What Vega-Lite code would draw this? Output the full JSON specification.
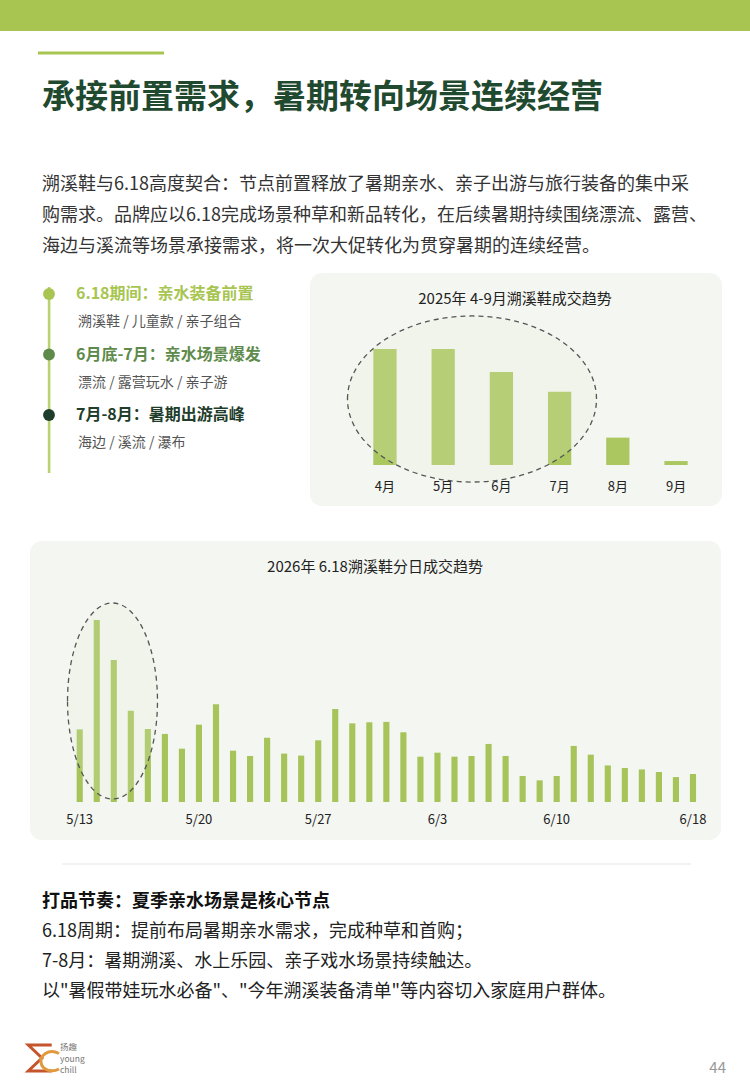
{
  "$schema": "https://vega.github.io/schema/vega-lite/v6.json",
  "width": 750,
  "height": 1083,
  "autosize": {"type": "fit", "contains": "padding"},
  "padding": 0,
  "background": "white",
  "config": {"view": {"stroke": null}, "font": "Noto Sans CJK SC"},
  "data": {"values": [{}]},
  "datasets": {
    "stages": [
      {"stage": "6.18期间", "title": "6.18期间：亲水装备前置", "items": "溯溪鞋 / 儿童款 / 亲子组合"},
      {"stage": "6月底-7月", "title": "6月底-7月：亲水场景爆发", "items": "漂流 / 露营玩水 / 亲子游"},
      {"stage": "7月-8月", "title": "7月-8月：暑期出游高峰", "items": "海边 / 溪流 / 瀑布"}
    ],
    "monthly": [
      {"month": "4月", "value": 100},
      {"month": "5月", "value": 100},
      {"month": "6月", "value": 80.2},
      {"month": "7月", "value": 63.2},
      {"month": "8月", "value": 23.6},
      {"month": "9月", "value": 3.4}
    ],
    "daily": [
      {"day": "5/13", "value": 39.9},
      {"day": "5/14", "value": 100},
      {"day": "5/15", "value": 78.0},
      {"day": "5/16", "value": 50.2},
      {"day": "5/17", "value": 40.1},
      {"day": "5/18", "value": 37.4},
      {"day": "5/19", "value": 29.3},
      {"day": "5/20", "value": 42.5},
      {"day": "5/21", "value": 53.7},
      {"day": "5/22", "value": 28.2},
      {"day": "5/23", "value": 25.3},
      {"day": "5/24", "value": 35.3},
      {"day": "5/25", "value": 26.6},
      {"day": "5/26", "value": 25.5},
      {"day": "5/27", "value": 33.9},
      {"day": "5/28", "value": 51.1},
      {"day": "5/29", "value": 43.2},
      {"day": "5/30", "value": 43.8},
      {"day": "5/31", "value": 44.0},
      {"day": "6/1", "value": 38.3},
      {"day": "6/2", "value": 24.9},
      {"day": "6/3", "value": 27.1},
      {"day": "6/4", "value": 24.9},
      {"day": "6/5", "value": 25.3},
      {"day": "6/6", "value": 31.9},
      {"day": "6/7", "value": 25.3},
      {"day": "6/8", "value": 14.3},
      {"day": "6/9", "value": 11.9},
      {"day": "6/10", "value": 14.3},
      {"day": "6/11", "value": 30.8},
      {"day": "6/12", "value": 26.0},
      {"day": "6/13", "value": 20.1},
      {"day": "6/14", "value": 18.7},
      {"day": "6/15", "value": 17.9},
      {"day": "6/16", "value": 16.5},
      {"day": "6/17", "value": 13.7},
      {"day": "6/18", "value": 15.4}
    ]
  },
  "layer": [
    {"mark": {"type": "rect", "x": 0, "x2": 750, "y": 0, "y2": 31, "color": "#a8c552"}, "encoding": {}},
    {"mark": {"type": "rect", "x": 38, "x2": 164, "y": 51.5, "y2": 54.5, "color": "#a8c552"}, "encoding": {}},
    {
      "mark": {"type": "text", "x": 42, "y": 98, "align": "left", "baseline": "middle", "fontSize": 33, "fontWeight": "bold", "color": "#1f4a2f",
        "text": "承接前置需求，暑期转向场景连续经营"},
      "encoding": {}
    },
    {
      "mark": {"type": "text", "x": 42, "y": 185, "align": "left", "baseline": "middle", "fontSize": 18, "lineHeight": 31, "color": "#333333",
        "text": ["溯溪鞋与6.18高度契合：节点前置释放了暑期亲水、亲子出游与旅行装备的集中采", "购需求。品牌应以6.18完成场景种草和新品转化，在后续暑期持续围绕漂流、露营、", "海边与溪流等场景承接需求，将一次大促转化为贯穿暑期的连续经营。"]},
      "encoding": {}
    },
    {"mark": {"type": "rect", "x": 47.8, "x2": 50.4, "y": 287, "y2": 473, "color": "#b8d270"}, "encoding": {}},
    {
      "data": {"name": "stages"},
      "encoding": {
        "y": {"field": "stage", "type": "ordinal", "sort": null, "axis": null, "scale": {"type": "point", "range": [294, 415], "padding": 0}},
        "color": {"field": "stage", "type": "nominal", "sort": null, "legend": null, "scale": {"domain": ["6.18期间", "6月底-7月", "7月-8月"], "range": ["#a8c552", "#5e8b4b", "#1f3d2b"]}}
      },
      "layer": [
        {"mark": {"type": "circle", "x": 49, "size": 140, "opacity": 1}},
        {"mark": {"type": "text", "x": 76, "align": "left", "baseline": "middle", "fontSize": 16, "fontWeight": "bold"}, "encoding": {"text": {"field": "title"}}},
        {"mark": {"type": "text", "x": 78, "dy": 28, "align": "left", "baseline": "middle", "fontSize": 14}, "encoding": {"text": {"field": "items"}, "color": {"value": "#555555"}}}
      ]
    },
    {"mark": {"type": "rect", "x": 310, "x2": 722, "y": 273, "y2": 506, "cornerRadius": 12, "color": "#f4f6f1"}, "encoding": {}},
    {
      "mark": {"type": "text", "x": 515, "y": 299, "align": "center", "baseline": "middle", "fontSize": 15, "color": "#222222", "text": "2025年 4-9月溯溪鞋成交趋势"},
      "encoding": {}
    },
    {
      "data": {"name": "monthly"},
      "encoding": {
        "x": {"field": "month", "type": "nominal", "sort": null, "axis": null, "scale": {"type": "band", "range": [355.85, 705.15], "paddingInner": 0.6, "paddingOuter": 0.3}}
      },
      "layer": [
        {
          "mark": {"type": "bar", "color": "#abc760"},
          "encoding": {"y": {"field": "value", "type": "quantitative", "axis": null, "scale": {"domain": [0, 100], "range": [465, 349], "nice": false, "zero": true}}}
        },
        {"mark": {"type": "text", "y": 487, "align": "center", "baseline": "middle", "fontSize": 13, "color": "#222222"}, "encoding": {"text": {"field": "month"}}}
      ]
    },
    {
      "mark": {"type": "point", "shape": "M -1 0 C -1 -0.368 -0.552 -0.667 0 -0.667 C 0.552 -0.667 1 -0.368 1 0 C 1 0.368 0.552 0.667 0 0.667 C -0.552 0.667 -1 0.368 -1 0 Z",
        "x": 472, "y": 399, "size": 62001, "filled": true, "fill": "#e6eed6", "fillOpacity": 0.2, "stroke": "#555555", "strokeWidth": 1.3, "strokeDash": [5, 4], "opacity": 1},
      "encoding": {}
    },
    {"mark": {"type": "rect", "x": 30, "x2": 721, "y": 541, "y2": 840, "cornerRadius": 12, "color": "#f4f6f1"}, "encoding": {}},
    {
      "mark": {"type": "text", "x": 375, "y": 567, "align": "center", "baseline": "middle", "fontSize": 15, "color": "#222222", "text": "2026年 6.18溯溪鞋分日成交趋势"},
      "encoding": {}
    },
    {
      "data": {"name": "daily"},
      "encoding": {
        "x": {"field": "day", "type": "nominal", "sort": null, "axis": null, "scale": {"type": "band", "range": [71.2, 701.5], "paddingInner": 0.64, "paddingOuter": 0.32}}
      },
      "layer": [
        {
          "mark": {"type": "bar", "color": "#a6c45a"},
          "encoding": {"y": {"field": "value", "type": "quantitative", "axis": null, "scale": {"domain": [0, 100], "range": [802, 620], "nice": false, "zero": true}}}
        },
        {
          "transform": [{"filter": {"field": "day", "oneOf": ["5/13", "5/20", "5/27", "6/3", "6/10", "6/18"]}}],
          "mark": {"type": "text", "y": 820, "align": "center", "baseline": "middle", "fontSize": 13, "color": "#222222"},
          "encoding": {"text": {"field": "day"}}
        }
      ]
    },
    {
      "mark": {"type": "point", "shape": "M -0.459 0 C -0.459 -0.552 -0.2535 -1 0 -1 C 0.2535 -1 0.459 -0.552 0.459 0 C 0.459 0.552 0.2535 1 0 1 C -0.2535 1 -0.459 0.552 -0.459 0 Z",
        "x": 112.5, "y": 701, "size": 38416, "filled": true, "fill": "#e6eed6", "fillOpacity": 0.2, "stroke": "#555555", "strokeWidth": 1.3, "strokeDash": [5, 4], "opacity": 1},
      "encoding": {}
    },
    {"mark": {"type": "rect", "x": 62, "x2": 691, "y": 863.5, "y2": 864.5, "color": "#e6e6e6"}, "encoding": {}},
    {
      "mark": {"type": "text", "x": 42, "y": 902, "align": "left", "baseline": "middle", "fontSize": 18, "fontWeight": "bold", "color": "#111111", "text": "打品节奏：夏季亲水场景是核心节点"},
      "encoding": {}
    },
    {
      "mark": {"type": "text", "x": 42, "y": 932, "align": "left", "baseline": "middle", "fontSize": 18, "lineHeight": 30, "color": "#222222",
        "text": ["6.18周期：提前布局暑期亲水需求，完成种草和首购；", "7-8月：暑期溯溪、水上乐园、亲子戏水场景持续触达。", "以\"暑假带娃玩水必备\"、\"今年溯溪装备清单\"等内容切入家庭用户群体。"]},
      "encoding": {}
    },
    {
      "mark": {"type": "point", "shape": "M 0.9 -1 L -0.9 -1 L 0.15 0 L -0.9 1 L 0.9 1", "x": 40, "y": 1058, "size": 676, "filled": false,
        "stroke": "#c4552c", "strokeWidth": 3, "opacity": 1},
      "encoding": {}
    },
    {
      "mark": {"type": "point", "shape": "M 0.8 -0.75 C -0.3 -1.3 -1.1 -0.5 -1 0.15 C -0.9 0.9 0.1 1.2 0.8 0.8", "x": 51, "y": 1061, "size": 400, "filled": false,
        "stroke": "#e09a3e", "strokeWidth": 3, "opacity": 1},
      "encoding": {}
    },
    {"mark": {"type": "text", "x": 60, "y": 1047, "align": "left", "baseline": "middle", "fontSize": 8.5, "lineHeight": 11.5, "color": "#777777", "text": ["扬趣", "young", "chill"]}, "encoding": {}},
    {"mark": {"type": "text", "x": 726, "y": 1068, "align": "right", "baseline": "middle", "fontSize": 15, "color": "#999999", "text": "44"}, "encoding": {}}
  ],
  "resolve": {"scale": {"x": "independent", "y": "independent", "color": "independent"}}
}
